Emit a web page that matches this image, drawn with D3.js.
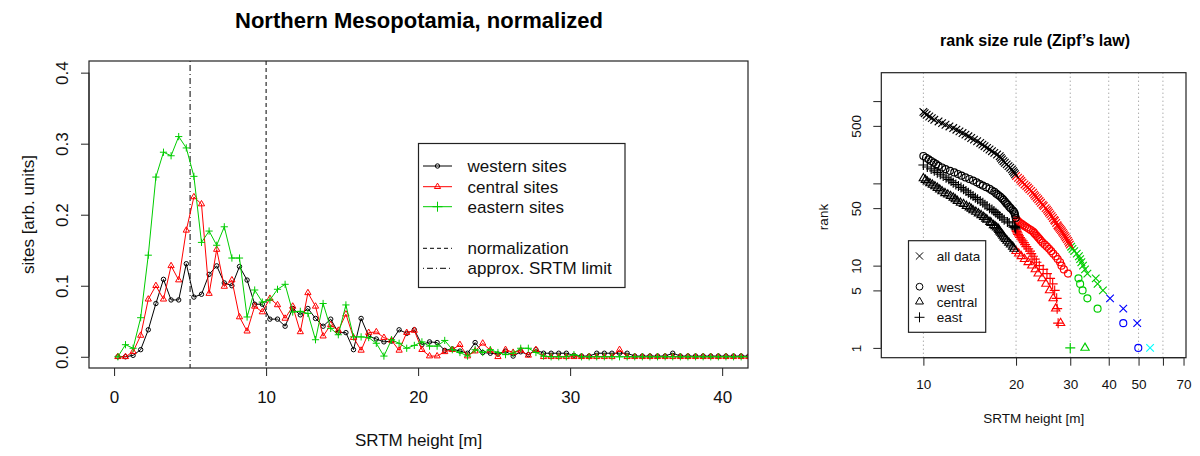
<!DOCTYPE html>
<html><head><meta charset="utf-8">
<script src="https://cdn.jsdelivr.net/npm/d3@7"></script>
<style>body{margin:0;background:#fff}svg{display:block;font-family:"Liberation Sans",Arial,sans-serif}</style>
</head><body><svg id="c" width="1200" height="456"></svg>
<script>
// ---------- left chart data ----------
const heightBins = [0.25,0.75,1.25,1.75,2.25,2.75,3.25,3.75,4.25,4.75,5.25,5.75,6.25,6.75,7.25,7.75,8.25,8.75,9.25,9.75,
 10.25,10.75,11.25,11.75,12.25,12.75,13.25,13.75,14.25,14.75,15.25,15.75,16.25,16.75,17.25,17.75,18.25,18.75,19.25,19.75,
 20.25,20.75,21.25,21.75,22.25,22.75,23.25,23.75,24.25,24.75,25.25,25.75,26.25,26.75,27.25,27.75,28.25,28.75,29.25,29.75,
 30.25,30.75,31.25,31.75,32.25,32.75,33.25,33.75,34.25,34.75,35.25,35.75,36.25,36.75,37.25,37.75,38.25,38.75,39.25,39.75,
 40.25,40.75,41.25,41.75];
const westernSites = [0.000,0.000,0.002,0.010,0.038,0.075,0.109,0.080,0.080,0.131,
 0.084,0.088,0.116,0.128,0.104,0.100,0.127,0.108,0.074,0.074,
 0.053,0.053,0.043,0.068,0.059,0.068,0.054,0.043,0.053,0.034,
 0.034,0.010,0.054,0.029,0.025,0.021,0.022,0.038,0.033,0.038,
 0.017,0.021,0.020,0.009,0.011,0.008,0.005,0.020,0.006,0.005,
 0.004,0.008,0.001,0.007,0.003,0.010,0.005,0.005,0.005,0.005,
 0.002,0.001,0.001,0.005,0.005,0.005,0.005,0.005,0.001,0.001,
 0.001,0.001,0.001,0.005,0.001,0.001,0.001,0.001,0.001,0.001,
 0.001,0.001,0.001,0.001];
const centralSites = [0.000,0.000,0.007,0.030,0.081,0.100,0.081,0.128,0.108,0.178,
 0.225,0.215,0.089,0.151,0.099,0.108,0.056,0.036,0.071,0.063,
 0.082,0.073,0.054,0.071,0.035,0.090,0.071,0.029,0.045,0.037,
 0.060,0.027,0.009,0.034,0.035,0.027,0.023,0.009,0.034,0.037,
 0.010,0.001,0.001,0.007,0.010,0.017,0.001,0.008,0.019,0.009,
 0.000,0.010,0.006,0.009,0.002,0.010,0.000,0.000,0.000,0.000,
 0.000,0.000,0.000,0.000,0.000,0.000,0.010,0.000,0.000,0.000,
 0.000,0.000,0.000,0.000,0.000,0.000,0.000,0.000,0.000,0.000,
 0.000,0.000,0.000,0.000];
const easternSites = [0.000,0.017,0.012,0.055,0.143,0.253,0.288,0.283,0.310,0.294,
 0.254,0.161,0.177,0.157,0.183,0.139,0.139,0.056,0.094,0.077,
 0.080,0.095,0.102,0.063,0.064,0.061,0.024,0.075,0.040,0.031,
 0.073,0.028,0.028,0.027,0.019,0.001,0.024,0.019,0.012,0.016,
 0.021,0.015,0.015,0.023,0.010,0.006,0.001,0.010,0.006,0.010,
 0.006,0.003,0.005,0.012,0.012,0.006,0.001,0.000,0.000,0.000,
 0.003,0.000,0.000,0.000,0.000,0.000,0.000,0.000,0.000,0.000,
 0.000,0.000,0.000,0.000,0.000,0.000,0.000,0.000,0.000,0.000,
 0.000,0.000,0.000,0.000];
const leftXTicks = [0,10,20,30,40];
const leftYTicks = [0.0,0.1,0.2,0.3,0.4];
const srtmLimit = 5, normalization = 10;
const leftLegend = ["western sites","central sites","eastern sites","normalization","approx. SRTM limit"];

// ---------- right chart data (rank vs height) ----------
const allDataRank = [1,2,3,4,5,6,7,8,9,10,11,12,13,14,15,16,17,
 18,19,20,21,22,23,24,25,26,27,28,29,30,31,33,35,36,38,40,42,44,46,48,50,53,55,58,61,64,67,70,73,77,81,85,89,93,97,102,107,112,117,
 123,129,135,141,148,155,162,170,178,186,195,204,214,224,235,246,258,270,283,296,310,325,340,356,373,391,409,429,449,470,492,516,540,566,592,621,650,681,713,740];
const allDataHeight = [54.5,49.5,44.6,40.4,38.3,36.8,36.3,34.1,33.5,33.0,32.6,32.3,32.0,31.5,30.9,30.5,30.2,
 29.9,29.7,29.5,29.25,29.0,28.8,28.6,28.4,28.2,28.0,27.8,27.6,27.4,27.25,27.0,26.75,26.6,26.35,26.1,25.85,25.6,25.4,25.2,24.95,24.6,24.4,24.1,23.85,23.6,23.35,23.1,22.9,22.7,22.4,22.1,21.85,21.6,21.3,21.0,20.8,20.6,20.3,
 20.0,19.85,19.7,19.55,19.4,19.15,18.9,18.65,18.4,18.2,18.0,17.85,17.7,17.35,17.0,16.7,16.4,16.1,15.8,15.55,15.3,14.95,14.6,14.3,14.0,13.7,13.4,13.1,12.8,12.5,12.15,11.8,11.5,11.2,10.85,10.65,10.45,10.25,10.1,10.0];
const westRank = [1,2,3,4,5,6,7,8,9,10,11,12,13,14,15,16,17,18,19,20,21,22,23,24,25,26,27,28,29,30,31,32,33,34,35,36,
 38,41,43,45,47,50,52,55,57,60,63,66,69,72,75,79,82,86,90,94,98,103,108,113,118,124,130,136,142,149,156,163,171,179,187,196,205,215];
const westHeight = [49.9,44.6,36.8,34.1,32.9,32.3,31.9,29.5,28.6,28.1,27.8,27.3,26.9,26.4,26.0,25.6,25.2,24.8,24.4,24.1,
 23.85,23.6,23.35,23.1,22.9,22.7,22.35,22.0,21.7,21.4,21.15,20.9,20.65,20.4,20.25,20.1,
 19.95,19.85,19.8,19.7,19.5,19.2,19.0,18.8,18.6,18.4,18.2,18.0,17.75,17.5,17.25,17.0,16.7,16.4,16.0,15.6,15.25,14.9,14.5,14.1,13.7,13.3,12.95,12.6,12.2,11.8,11.5,11.2,11.0,10.8,10.6,10.4,10.2,10.0];
const centralRank = [1,2,3,4,5,6,7,8,9,10,11,12,13,14,15,16,17,18,19,20,21,22,23,24,25,26,27,28,29,30,31,
 33,34,36,37,39,41,43,45,47,49,51,53,56,58,61,64,67,70,73,76,80,84,88,92,96,100,105,110,115];
const centralHeight = [33.5,27.9,26.9,26.4,25.7,25.0,24.3,23.6,23.1,22.5,21.9,21.3,20.8,20.4,20.0,19.7,19.5,19.2,
 18.95,18.7,18.5,18.3,18.15,18.0,17.85,17.7,17.6,17.5,17.3,17.1,16.9,
 16.6,16.45,16.1,15.95,15.7,15.4,15.1,14.8,14.5,14.3,14.1,13.8,13.5,13.2,12.9,12.7,12.5,12.25,12.0,11.75,11.5,11.3,11.1,10.9,10.7,10.5,10.3,10.15,10.0];
const eastRank = [1,2,3,4,5,6,7,8,9,10,11,12,13,14,15,16,17,18,19,20,21,22,23,24,25,26,27,28,29,30,
 31,33,34,36,38,40,42,44,46,48,50,53,55,58,61,64,67,70,73,77,81,85,89,93,97,102,107,112,117,123,129,135,142,150,158,167];
const eastHeight = [30.0,27.4,27.2,27.1,26.7,26.3,25.8,25.2,24.5,23.8,23.3,23.0,22.7,22.4,22.2,21.9,21.6,21.4,
 21.2,21.0,20.8,20.6,20.45,20.3,20.2,20.1,20.05,19.95,19.85,19.8,
 19.5,19.0,18.75,18.3,18.0,17.7,17.45,17.2,16.95,16.7,16.4,16.1,15.85,15.6,15.3,15.0,14.75,14.5,14.25,14.0,
 13.75,13.5,13.25,13.0,12.75,12.5,12.3,12.1,11.85,11.6,11.35,11.1,10.85,10.6,10.3,10.0];
const rightXTicks = [10,20,30,40,50,60,70];
const rightXLabels = ["10","20","30","40","50","","70"];
const rightYTicks = [1,5,10,50,100,500,1000];
const rightYLabels = ["1","5","10","50","","500",""];
const gridHeights = [10,20,30,40,50,60];
const rightLegend = ["all data","west","central","east"];

// ---------- drawing ----------
const svg = d3.select("#c");
const GREEN = "#00cd00";
function sym(type, s) {
  if (type === "circle") return `M${-s},0A${s},${s} 0 1,0 ${s},0A${s},${s} 0 1,0 ${-s},0Z`;
  if (type === "tri") return `M0,${-s}L${s*0.866},${s*0.5}L${-s*0.866},${s*0.5}Z`;
  if (type === "plus") return `M${-s},0L${s},0M0,${-s}L0,${s}`;
  if (type === "cross") return `M${-s},${-s}L${s},${s}M${-s},${s}L${s},${-s}`;
}

// LEFT
const L = {x0: 89, x1: 748, y0: 61, y1: 368};
const xL = d3.scaleLinear().domain([-1.65, 41.7]).range([L.x0, L.x1]);
const yL = d3.scaleLinear().domain([-0.0158, 0.4164]).range([L.y1, L.y0]);
svg.append("clipPath").attr("id","clipL").append("rect").attr("x",L.x0).attr("y",L.y0).attr("width",L.x1-L.x0).attr("height",L.y1-L.y0);
const gL = svg.append("g");
const plotL = gL.append("g").attr("clip-path","url(#clipL)");
plotL.append("line").attr("x1",xL(normalization)).attr("x2",xL(normalization)).attr("y1",L.y0).attr("y2",L.y1)
  .attr("stroke","#000").attr("stroke-dasharray","4,3");
plotL.append("line").attr("x1",xL(srtmLimit)).attr("x2",xL(srtmLimit)).attr("y1",L.y0).attr("y2",L.y1)
  .attr("stroke","#000").attr("stroke-dasharray","1,3,6,3");
const leftSeries = [
  {vals: westernSites, color: "#000", shape: "circle", size: 2.2},
  {vals: centralSites, color: "#ff0000", shape: "tri", size: 3.6},
  {vals: easternSites, color: GREEN, shape: "plus", size: 3.6}
];
const lineL = d3.line().x((d,i)=>xL(heightBins[i])).y(d=>yL(d));
leftSeries.forEach(s => {
  plotL.append("path").attr("d", lineL(s.vals)).attr("fill","none").attr("stroke",s.color).attr("stroke-width",1);
  plotL.selectAll(null).data(s.vals).enter().append("path")
    .attr("transform",(d,i)=>`translate(${xL(heightBins[i])},${yL(d)})`)
    .attr("d", sym(s.shape, s.size)).attr("fill","none").attr("stroke",s.color).attr("stroke-width",1);
});
gL.append("rect").attr("x",L.x0).attr("y",L.y0).attr("width",L.x1-L.x0).attr("height",L.y1-L.y0)
  .attr("fill","none").attr("stroke","#222").attr("stroke-width",1.2);
const axLB = d3.axisBottom(xL).tickValues(leftXTicks).tickSize(8).tickSizeOuter(0).tickFormat(d3.format("d"));
const gxL = gL.append("g").attr("transform",`translate(0,${L.y1})`).call(axLB);
gxL.select(".domain").remove();
gxL.selectAll("line").attr("stroke","#222");
gxL.selectAll("text").attr("font-size",17).attr("fill","#111").attr("dy",null).attr("y",35);
const axLL = d3.axisLeft(yL).tickValues(leftYTicks).tickSize(8).tickSizeOuter(0).tickFormat(d3.format(".1f"));
const gyL = gL.append("g").attr("transform",`translate(${L.x0},0)`).call(axLL);
gyL.select(".domain").remove();
gyL.append("line").attr("x1",0).attr("x2",0).attr("y1",yL(0)).attr("y2",yL(0.4)).attr("stroke","#222");
gyL.selectAll("line").attr("stroke","#222");
gyL.selectAll("text").attr("font-size",17).attr("fill","#111").attr("x",null).attr("dy",null)
  .attr("text-anchor","middle").attr("transform","translate(-21,0) rotate(-90)");
gL.append("text").attr("x",419).attr("y",28).attr("text-anchor","middle").attr("font-size",22).attr("font-weight","bold")
  .text("Northern Mesopotamia, normalized");
gL.append("text").attr("x",(L.x0+L.x1)/2).attr("y",446).attr("text-anchor","middle").attr("font-size",17).attr("fill","#111")
  .text("SRTM height [m]");
gL.append("text").attr("transform",`translate(34,${(L.y0+L.y1)/2}) rotate(-90)`).attr("text-anchor","middle")
  .attr("font-size",17).attr("fill","#111").text("sites [arb. units]");
const lg = gL.append("g");
lg.append("rect").attr("x",418.5).attr("y",143.5).attr("width",206.5).attr("height",144).attr("fill","#fff").attr("stroke","#222").attr("stroke-width",1.2);
const legRowsL = [
  {y:166, color:"#000", shape:"circle", size:2.2, dash:null},
  {y:186.7, color:"#ff0000", shape:"tri", size:3.6, dash:null},
  {y:206.7, color:GREEN, shape:"plus", size:5, dash:null},
  {y:248.3, color:"#000", shape:null, dash:"4,3"},
  {y:268.3, color:"#000", shape:null, dash:"1,3,6,3"}
];
legRowsL.forEach((r,i) => {
  lg.append("line").attr("x1",423).attr("x2",452).attr("y1",r.y).attr("y2",r.y).attr("stroke",r.color)
    .attr("stroke-dasharray",r.dash);
  if (r.shape) lg.append("path").attr("transform",`translate(437.5,${r.y})`).attr("d",sym(r.shape,r.size))
    .attr("fill","none").attr("stroke",r.color);
  lg.append("text").attr("x",467.5).attr("y",r.y+6).attr("font-size",17).attr("fill","#111").text(leftLegend[i]);
});

// RIGHT
const R = {x0: 881.3, x1: 1186, y0: 72.7, y1: 357.7};
const xR = d3.scaleLog().domain([7.3, 71.3]).range([R.x0, R.x1]);
const yR = d3.scaleLog().domain([0.76, 2214]).range([R.y1, R.y0]);
const colR = d3.scaleThreshold().domain([20,30,40,50]).range(["#000","#ff0000",GREEN,"#0000ff","#00ffff"]);
svg.append("clipPath").attr("id","clipR").append("rect").attr("x",R.x0).attr("y",R.y0).attr("width",R.x1-R.x0).attr("height",R.y1-R.y0);
const gR = svg.append("g");
const plotR = gR.append("g").attr("clip-path","url(#clipR)");
plotR.selectAll(null).data(gridHeights).enter().append("line")
  .attr("x1",d=>xR(d)).attr("x2",d=>xR(d)).attr("y1",R.y0).attr("y2",R.y1)
  .attr("stroke","#888").attr("stroke-dasharray","1,3");
const rightSeries = [
  {rank: allDataRank, h: allDataHeight, shape:"cross", size:3.8},
  {rank: westRank, h: westHeight, shape:"circle", size:3.5},
  {rank: centralRank, h: centralHeight, shape:"tri", size:4.8},
  {rank: eastRank, h: eastHeight, shape:"plus", size:5}
];
rightSeries.forEach(s => {
  plotR.selectAll(null).data(s.h).enter().append("path")
    .attr("transform",(d,i)=>`translate(${xR(d)},${yR(s.rank[i])})`)
    .attr("d", sym(s.shape, s.size)).attr("fill","none").attr("stroke",d=>colR(d)).attr("stroke-width",1.15);
});
gR.append("rect").attr("x",R.x0).attr("y",R.y0).attr("width",R.x1-R.x0).attr("height",R.y1-R.y0)
  .attr("fill","none").attr("stroke","#222").attr("stroke-width",1.2);
const axRB = d3.axisBottom(xR).tickValues(rightXTicks).tickSize(8).tickSizeOuter(0).tickFormat((d,i)=>rightXLabels[i]);
const gxR = gR.append("g").attr("transform",`translate(0,${R.y1})`).call(axRB);
gxR.select(".domain").remove();
gxR.append("line").attr("x1",xR(10)).attr("x2",xR(70)).attr("y1",0).attr("y2",0).attr("stroke","#222");
gxR.selectAll("line").attr("stroke","#222");
gxR.selectAll("text").attr("font-size",13.5).attr("fill","#111").attr("dy",null).attr("y",31);
const axRL = d3.axisLeft(yR).tickValues(rightYTicks).tickSize(8).tickSizeOuter(0).tickFormat((d,i)=>rightYLabels[i]);
const gyR = gR.append("g").attr("transform",`translate(${R.x0},0)`).call(axRL);
gyR.select(".domain").remove();
gyR.append("line").attr("x1",0).attr("x2",0).attr("y1",yR(1)).attr("y2",yR(1000)).attr("stroke","#222");
gyR.selectAll("line").attr("stroke","#222");
gyR.selectAll("text").attr("font-size",13.5).attr("fill","#111").attr("x",null).attr("dy",null)
  .attr("text-anchor","middle").attr("transform","translate(-20,0) rotate(-90)");
gR.append("text").attr("x",1035).attr("y",46).attr("text-anchor","middle").attr("font-size",16).attr("font-weight","bold")
  .text("rank size rule (Zipf\u2019s law)");
gR.append("text").attr("x",(R.x0+R.x1)/2).attr("y",423).attr("text-anchor","middle").attr("font-size",13.5).attr("fill","#111")
  .text("SRTM height [m]");
gR.append("text").attr("transform",`translate(828,217) rotate(-90)`).attr("text-anchor","middle")
  .attr("font-size",13.5).attr("fill","#111").text("rank");
const rg = gR.append("g");
rg.append("rect").attr("x",908.5).attr("y",240.7).attr("width",77.2).attr("height",91.6).attr("fill","#fff").attr("stroke","#222").attr("stroke-width",1.2);
const legRowsR = [{y:256, shape:"cross", size:3.6},{y:286.7, shape:"circle", size:3.4},{y:301.7, shape:"tri", size:4.6},{y:317.3, shape:"plus", size:5}];
legRowsR.forEach((r,i) => {
  rg.append("path").attr("transform",`translate(919.5,${r.y})`).attr("d",sym(r.shape,r.size)).attr("fill","none").attr("stroke","#000");
  rg.append("text").attr("x",936.7).attr("y",r.y+5).attr("font-size",13.5).attr("fill","#111").text(rightLegend[i]);
});
</script></body></html>
